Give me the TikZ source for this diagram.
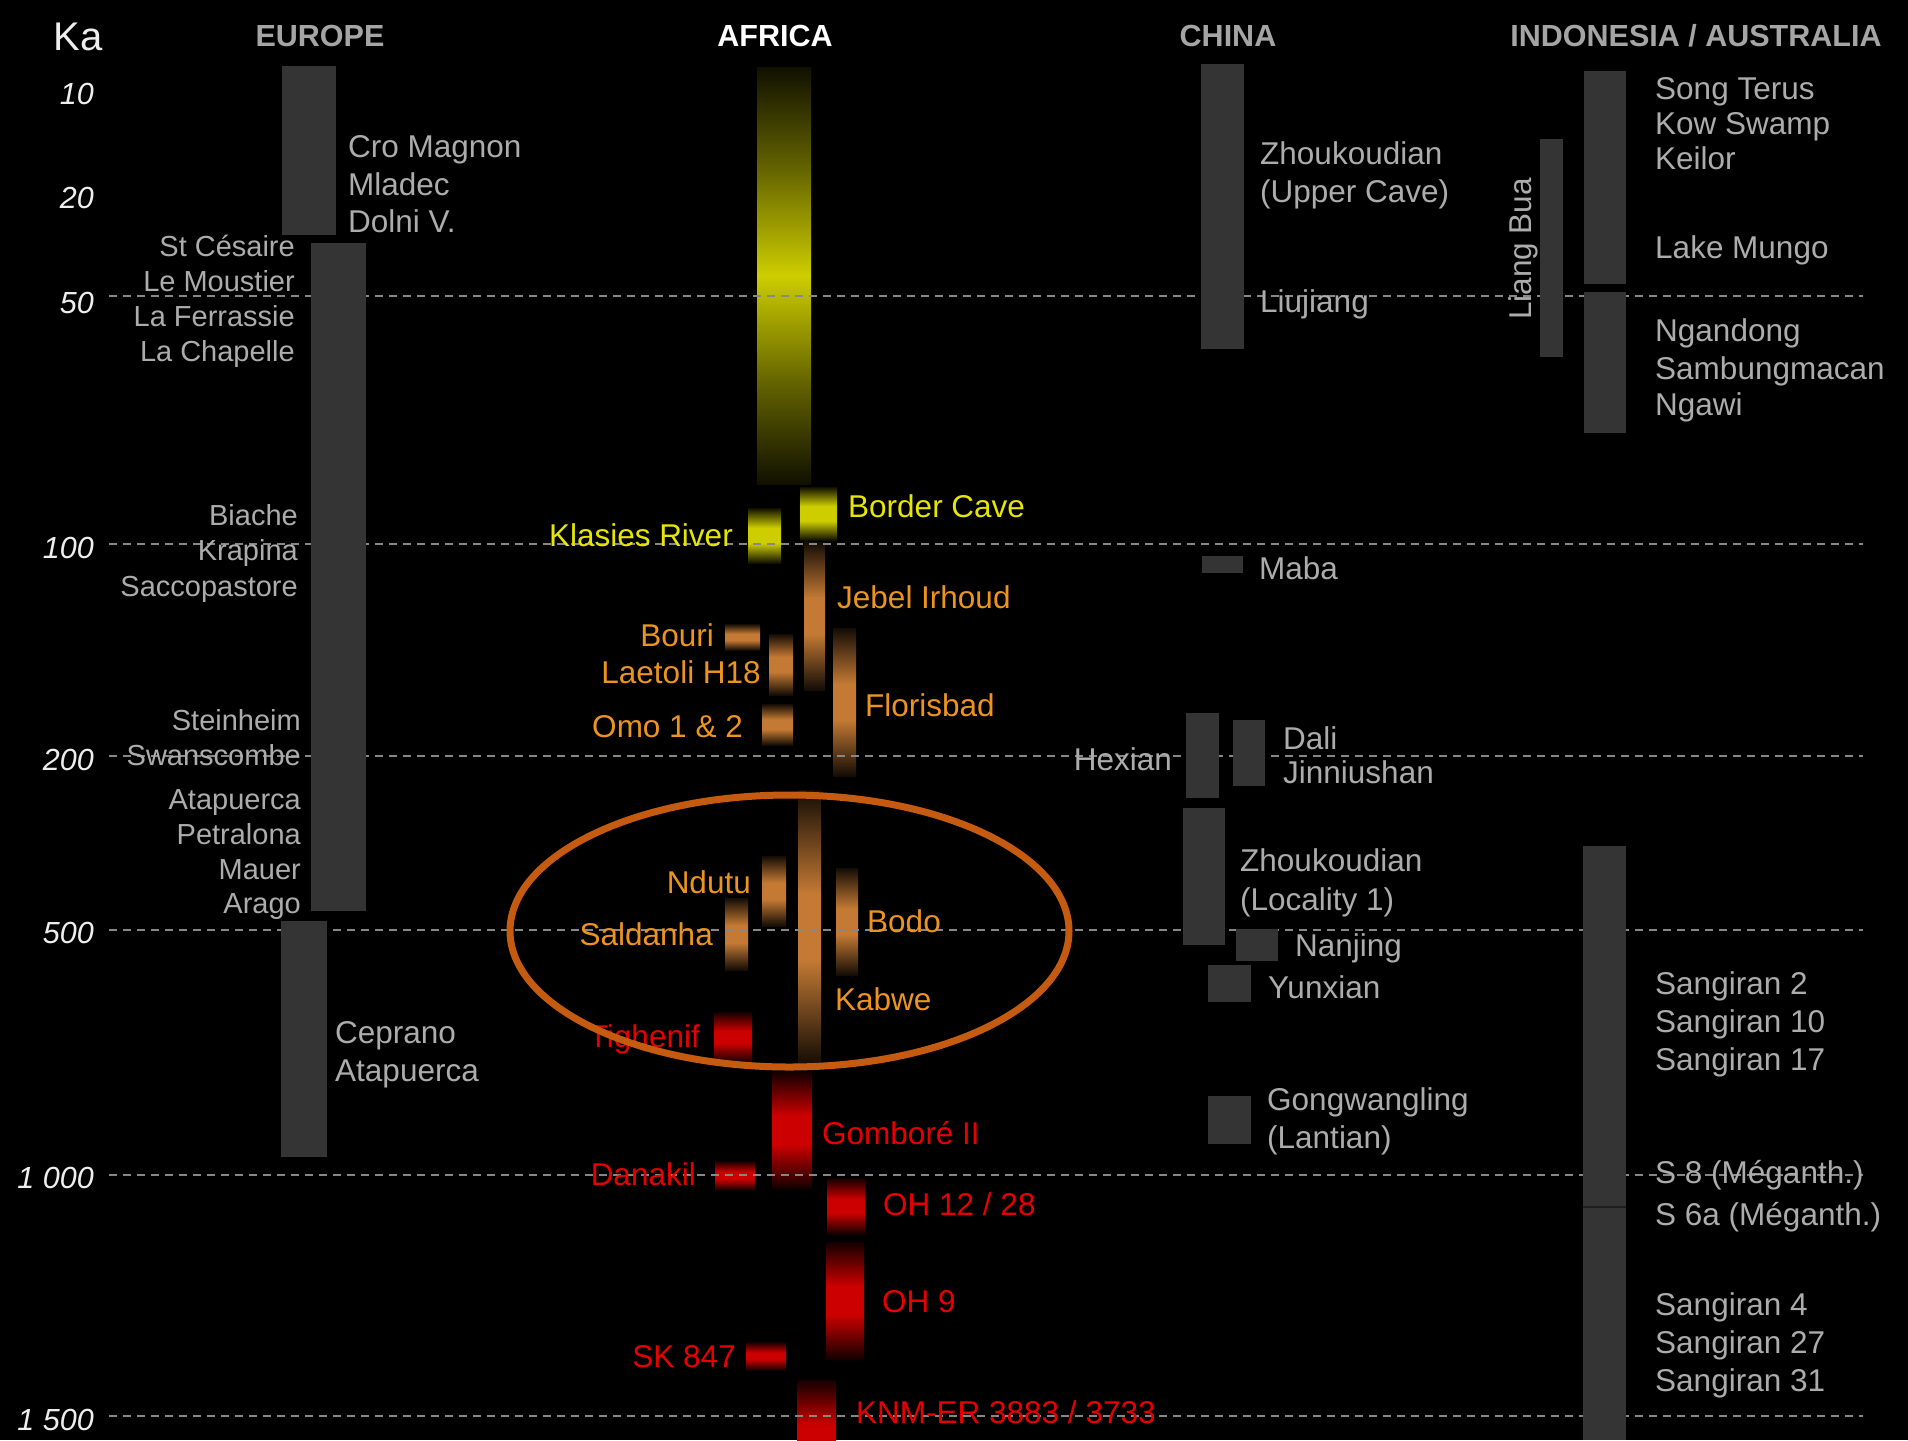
\documentclass[tikz,border=0pt]{standalone}
\usepackage{fontspec}
\setmainfont{Liberation Sans}

\definecolor{bargray}{RGB}{52,52,52}
\definecolor{barline}{RGB}{30,30,30}
\definecolor{txtgray}{RGB}{172,172,172}
\definecolor{hdrgray}{RGB}{165,165,165}
\definecolor{axiswhite}{RGB}{238,238,238}
\definecolor{ytxt}{RGB}{230,230,0}
\definecolor{otxt}{RGB}{236,148,30}
\definecolor{rtxt}{RGB}{232,0,0}
\definecolor{ybar}{RGB}{205,205,0}
\definecolor{obar}{RGB}{196,122,52}
\definecolor{rbar}{RGB}{205,0,0}
\definecolor{ellcol}{RGB}{197,90,17}
\definecolor{dashcol}{RGB}{135,135,135}
\colorlet{ybarlo}{ybar!8!black}
\colorlet{ybarmid}{ybar!48!black}
\colorlet{obarlo}{obar!10!black}
\colorlet{rbarlo}{rbar!10!black}

\pgfdeclareverticalshading{ypeak}{100bp}{color(0bp)=(ybarlo); color(25bp)=(ybarlo); color(37bp)=(ybarmid); color(50bp)=(ybar); color(63bp)=(ybarmid); color(75bp)=(ybarlo); color(100bp)=(ybarlo)}
\pgfdeclareverticalshading{yshade}{100bp}{color(0bp)=(ybarlo); color(25bp)=(ybarlo); color(43bp)=(ybar); color(57bp)=(ybar); color(75bp)=(ybarlo); color(100bp)=(ybarlo)}
\pgfdeclareverticalshading{oshade}{100bp}{color(0bp)=(obarlo); color(25bp)=(obarlo); color(44bp)=(obar); color(56bp)=(obar); color(75bp)=(obarlo); color(100bp)=(obarlo)}
\pgfdeclareverticalshading{rshade}{100bp}{color(0bp)=(rbarlo); color(25bp)=(rbarlo); color(44bp)=(rbar); color(56bp)=(rbar); color(75bp)=(rbarlo); color(100bp)=(rbarlo)}

\begin{document}
\begin{tikzpicture}[x=1pt,y=-1pt,
  lab/.style={inner sep=0pt, font=\fontsize{31.5}{36}\selectfont},
  lgray/.style={lab, text=txtgray, anchor=base west},
  rgray/.style={lab, text=txtgray, anchor=base east},
  reur/.style={inner sep=0pt, text=txtgray, anchor=base east, font=\fontsize{29}{34}\selectfont},
  lyel/.style={lab, text=ytxt, anchor=base west},
  ryel/.style={lab, text=ytxt, anchor=base east},
  lora/.style={lab, text=otxt, anchor=base west},
  rora/.style={lab, text=otxt, anchor=base east},
  lred/.style={lab, text=rtxt, anchor=base west},
  rred/.style={lab, text=rtxt, anchor=base east},
  hdr/.style={inner sep=0pt, anchor=base, text=hdrgray, font=\bfseries\fontsize{30.5}{36}\selectfont},
  axn/.style={inner sep=0pt, anchor=base east, text=axiswhite, font=\itshape\fontsize{30.5}{36}\selectfont},
  gridline/.style={draw=dashcol, line width=2.6pt, dash pattern=on 8pt off 6pt},
  gbar/.style={fill=bargray},
  ypk/.style={shading=ypeak},
  ysh/.style={shading=yshade},
  osh/.style={shading=oshade},
  rsh/.style={shading=rshade},
  ring/.style={draw=ellcol, line width=7pt}
]
\useasboundingbox (0,0) rectangle (1908,1440);
\fill[black] (0,0) rectangle (1908,1440);

% ---- Africa bars ----
\shade[ypk] (757,67) rectangle (811,484);
\shade[ysh] (800,487) rectangle (837,540);
\shade[ysh] (748,508) rectangle (781,563);
\shade[osh] (804,542) rectangle (825,690);
\shade[osh] (725,624) rectangle (760,650);
\shade[osh] (769,634) rectangle (793,695);
\shade[osh] (762,704) rectangle (793,745);
\shade[osh] (833,628) rectangle (856,776);
\shade[osh] (798,790) rectangle (821,1064);
\shade[osh] (762,856) rectangle (786,926);
\shade[osh] (725,898) rectangle (748,970);
\shade[osh] (836,868) rectangle (858,975);
\shade[rsh] (714,1012) rectangle (752,1062);
\shade[rsh] (772,1072) rectangle (812,1188);
\shade[rsh] (715,1161) rectangle (755,1190);
\shade[rsh] (827,1178) rectangle (865,1234);
\shade[rsh] (826,1242) rectangle (864,1359);
\shade[rsh] (746,1342) rectangle (786,1370);
\begin{scope}
  \clip (0,0) rectangle (1908,1440);
  \shade[rsh] (797,1380) rectangle (836,1500);
\end{scope}

% ---- dashed grid lines ----
\foreach \yy in {296,544,756,930,1175,1416}
  \draw[gridline] (109,\yy) -- (1863,\yy);

% ---- grey bars ----
\fill[gbar] (282,66) rectangle (336,235);
\fill[gbar] (311,243) rectangle (366,911);
\fill[gbar] (281,921) rectangle (327,1157);
\fill[gbar] (1201,64) rectangle (1244,349);
\fill[gbar] (1540,139) rectangle (1563,357);
\fill[gbar] (1584,71) rectangle (1626,284);
\fill[gbar] (1584,292) rectangle (1626,433);
\fill[gbar] (1202,556) rectangle (1243,573);
\fill[gbar] (1186,713) rectangle (1219,798);
\fill[gbar] (1233,720) rectangle (1265,786);
\fill[gbar] (1183,808) rectangle (1225,945);
\fill[gbar] (1236,929) rectangle (1278,961);
\fill[gbar] (1208,965) rectangle (1251,1002);
\fill[gbar] (1208,1096) rectangle (1251,1144);
\fill[gbar] (1583,846) rectangle (1626,1440);
\draw[barline, line width=1.5pt] (1583,1207) -- (1626,1207);

% ---- headers ----
\node[inner sep=0pt, anchor=base, text=axiswhite, font=\fontsize{40}{44}\selectfont] (ka) at (78,50) {Ka};
\node[hdr] (heur) at (320,46) {EUROPE};
\node[hdr, text=white] (hafr) at (775,46) {AFRICA};
\node[hdr] (hchn) at (1228,46) {CHINA};
\node[hdr] (hind) at (1696,46) {INDONESIA / AUSTRALIA};

% ---- axis ----
\node[axn] (a10) at (94,104) {10};
\node[axn] (a20) at (94,208) {20};
\node[axn] (a50) at (94,313) {50};
\node[axn] (a100) at (94,558) {100};
\node[axn] (a200) at (94,770) {200};
\node[axn] (a500) at (94,943) {500};
\node[axn] (a1000) at (94,1188) {1 000};
\node[axn] (a1500) at (94,1430) {1 500};

% ---- Europe ----
\node[lgray] (e1) at (348,157) {Cro Magnon};
\node[lgray] (e2) at (348,195) {Mladec};
\node[lgray] (e3) at (348,232) {Dolni V.};
\node[reur] (e4) at (295,256) {St Césaire};
\node[reur] (e5) at (295,291) {Le Moustier};
\node[reur] (e6) at (295,326) {La Ferrassie};
\node[reur] (e7) at (295,361) {La Chapelle};
\node[reur] (e8) at (298,525) {Biache};
\node[reur] (e9) at (298,560) {Krapina};
\node[reur] (e10) at (298,596) {Saccopastore};
\node[reur] (e11) at (301,730) {Steinheim};
\node[reur] (e12) at (301,765) {Swanscombe};
\node[reur] (e13) at (301,809) {Atapuerca};
\node[reur] (e14) at (301,844) {Petralona};
\node[reur] (e15) at (301,879) {Mauer};
\node[reur] (e16) at (301,913) {Arago};
\node[lgray] (e17) at (335,1043) {Ceprano};
\node[lgray] (e18) at (335,1081) {Atapuerca};

% ---- Africa labels ----
\node[lyel] (f1) at (848,517) {Border Cave};
\node[ryel] (f2) at (733,546) {Klasies River};
\node[lora] (f3) at (837,608) {Jebel Irhoud};
\node[rora] (f4) at (714,646) {Bouri};
\node[rora] (f5) at (761,683) {Laetoli H18};
\node[rora] (f6) at (743,737) {Omo 1 \& 2};
\node[lora] (f7) at (865,716) {Florisbad};
\node[rora] (f8) at (751,893) {Ndutu};
\node[rora] (f9) at (713,945) {Saldanha};
\node[lora] (f10) at (867,932) {Bodo};
\node[lora] (f11) at (835,1010) {Kabwe};
\node[rred] (f12) at (700,1047) {Tighenif};
\node[lred] (f13) at (822,1144) {Gomboré II};
\node[rred] (f14) at (696,1185) {Danakil};
\node[lred] (f15) at (883,1215) {OH 12 / 28};
\node[lred] (f16) at (882,1312) {OH 9};
\node[rred] (f17) at (736,1367) {SK 847};
\node[lred] (f18) at (856,1423) {KNM-ER 3883 / 3733};

% ---- China ----
\node[lgray] (c1) at (1260,164) {Zhoukoudian};
\node[lgray] (c2) at (1260,202) {(Upper Cave)};
\node[lgray] (c3) at (1260,312) {Liujiang};
\node[lgray] (c4) at (1259,579) {Maba};
\node[rgray] (c5) at (1172,770) {Hexian};
\node[lgray] (c6) at (1283,749) {Dali};
\node[lgray] (c7) at (1283,783) {Jinniushan};
\node[lgray] (c8) at (1240,871) {Zhoukoudian};
\node[lgray] (c9) at (1240,910) {(Locality 1)};
\node[lgray] (c10) at (1295,956) {Nanjing};
\node[lgray] (c11) at (1268,998) {Yunxian};
\node[lgray] (c12) at (1267,1110) {Gongwangling};
\node[lgray] (c13) at (1267,1148) {(Lantian)};

% ---- Indonesia / Australia ----
\node[lgray, rotate=90, anchor=base] (i0) at (1531,249) {Liang Bua};
\node[lgray] (i1) at (1655,99) {Song Terus};
\node[lgray] (i2) at (1655,134) {Kow Swamp};
\node[lgray] (i3) at (1655,169) {Keilor};
\node[lgray] (i4) at (1655,258) {Lake Mungo};
\node[lgray] (i5) at (1655,341) {Ngandong};
\node[lgray] (i6) at (1655,379) {Sambungmacan};
\node[lgray] (i7) at (1655,415) {Ngawi};
\node[lgray] (i8) at (1655,994) {Sangiran 2};
\node[lgray] (i9) at (1655,1032) {Sangiran 10};
\node[lgray] (i10) at (1655,1070) {Sangiran 17};
\node[lgray] (i11) at (1655,1183) {S 8 (Méganth.)};
\node[lgray] (i12) at (1655,1225) {S 6a (Méganth.)};
\node[lgray] (i13) at (1655,1315) {Sangiran 4};
\node[lgray] (i14) at (1655,1353) {Sangiran 27};
\node[lgray] (i15) at (1655,1391) {Sangiran 31};

% ---- highlight ellipse ----
\draw[ring] (789.5,931) ellipse [x radius=279.5, y radius=136];
\end{tikzpicture}
\end{document}
